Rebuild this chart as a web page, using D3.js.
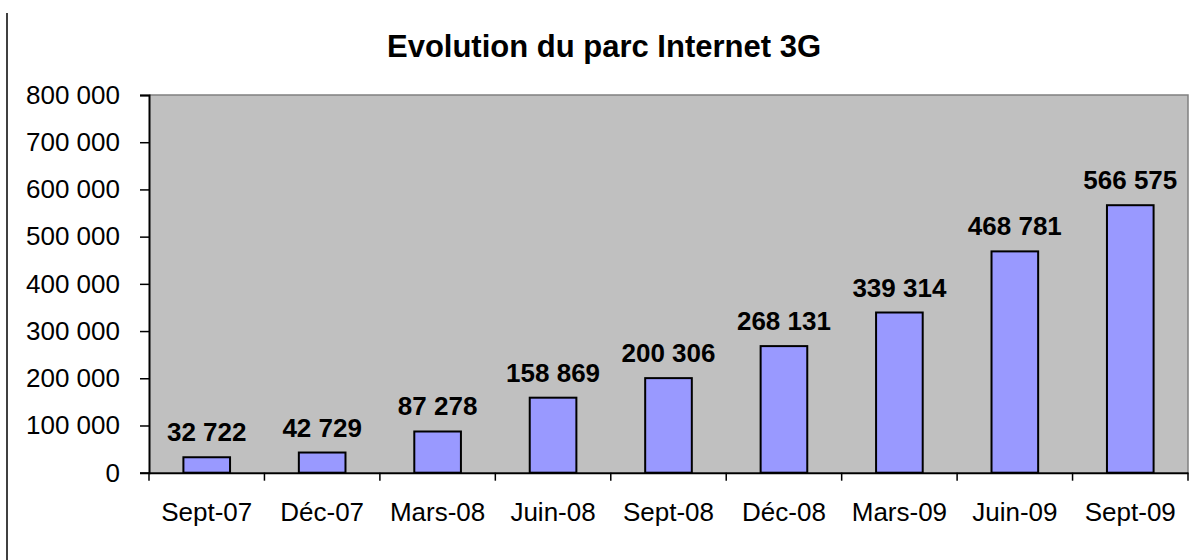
<!DOCTYPE html>
<html><head><meta charset="utf-8">
<script src="https://cdn.jsdelivr.net/npm/d3@7"></script>
<style>body{margin:0;background:#fff}svg{display:block}text{font-family:"Liberation Sans",Arial,sans-serif}</style>
</head><body><svg id="c" width="1198" height="560"></svg>
<script>
const categories = ["Sept-07","Déc-07","Mars-08","Juin-08","Sept-08","Déc-08","Mars-09","Juin-09","Sept-09"];
const values = [32722, 42729, 87278, 158869, 200306, 268131, 339314, 468781, 566575];
const yTicks = [0,100000,200000,300000,400000,500000,600000,700000,800000];
const title = "Evolution du parc Internet 3G";

const svg = d3.select("#c");
const L = 149, R = 1188, T = 95, B = 472.7;
const fmt = v => d3.format(",")(v).replace(/,/g, " ");

svg.append("line").attr("x1",7).attr("x2",7).attr("y1",13).attr("y2",560).attr("stroke","#000").attr("stroke-width",1.5);

const xb = d3.scaleBand().domain(categories).range([L,R]);
const y = d3.scaleLinear().domain([0,800000]).range([B,T]);

svg.append("rect").attr("x",L).attr("y",T).attr("width",R-L).attr("height",B-T).attr("fill","#C0C0C0");
svg.append("path").attr("d",`M${L},${T}H${R}V${B}`).attr("fill","none").attr("stroke","#808080").attr("stroke-width",1.5);

svg.append("text").attr("x",604).attr("y",57).attr("text-anchor","middle").attr("font-size",31).attr("font-weight","bold").text(title);

const bw = xb.bandwidth()*0.404;
svg.selectAll("rect.bar").data(values).enter().append("rect").attr("class","bar")
  .attr("x",(d,i)=>xb(categories[i]) + xb.bandwidth()/2 - bw/2)
  .attr("width",bw)
  .attr("y",d=>y(d)).attr("height",d=>B-y(d))
  .attr("fill","#9999FF").attr("stroke","#000").attr("stroke-width",2);

svg.selectAll("text.val").data(values).enter().append("text").attr("class","val")
  .attr("x",(d,i)=>xb(categories[i]) + xb.bandwidth()/2)
  .attr("y",d=>y(d)-16).attr("text-anchor","middle").attr("font-size",26).attr("font-weight","bold")
  .text(d=>fmt(d));

const ya = svg.append("g").attr("transform",`translate(${L},0)`)
  .call(d3.axisLeft(y).tickValues(yTicks).tickSize(9).tickPadding(20).tickFormat(fmt));
ya.select(".domain").attr("stroke","#000").attr("stroke-width",2);
ya.selectAll(".tick line").attr("stroke","#000").attr("stroke-width",1.5);
ya.selectAll("text").attr("font-size",26).attr("fill","#000").attr("font-family","Liberation Sans, Arial, sans-serif");

const xa = svg.append("g").attr("transform",`translate(0,${B})`)
  .call(d3.axisBottom(xb).tickSize(0).tickPadding(30));
xa.select(".domain").attr("stroke","#000").attr("stroke-width",2);
xa.selectAll("text").attr("font-size",26).attr("fill","#000").attr("font-family","Liberation Sans, Arial, sans-serif");
const bounds = categories.map(c=>xb(c)).concat([R]);
svg.selectAll("line.xt").data(bounds).enter().append("line").attr("class","xt")
  .attr("x1",d=>d).attr("x2",d=>d).attr("y1",B).attr("y2",B+8).attr("stroke","#000").attr("stroke-width",1.5);
</script></body></html>
